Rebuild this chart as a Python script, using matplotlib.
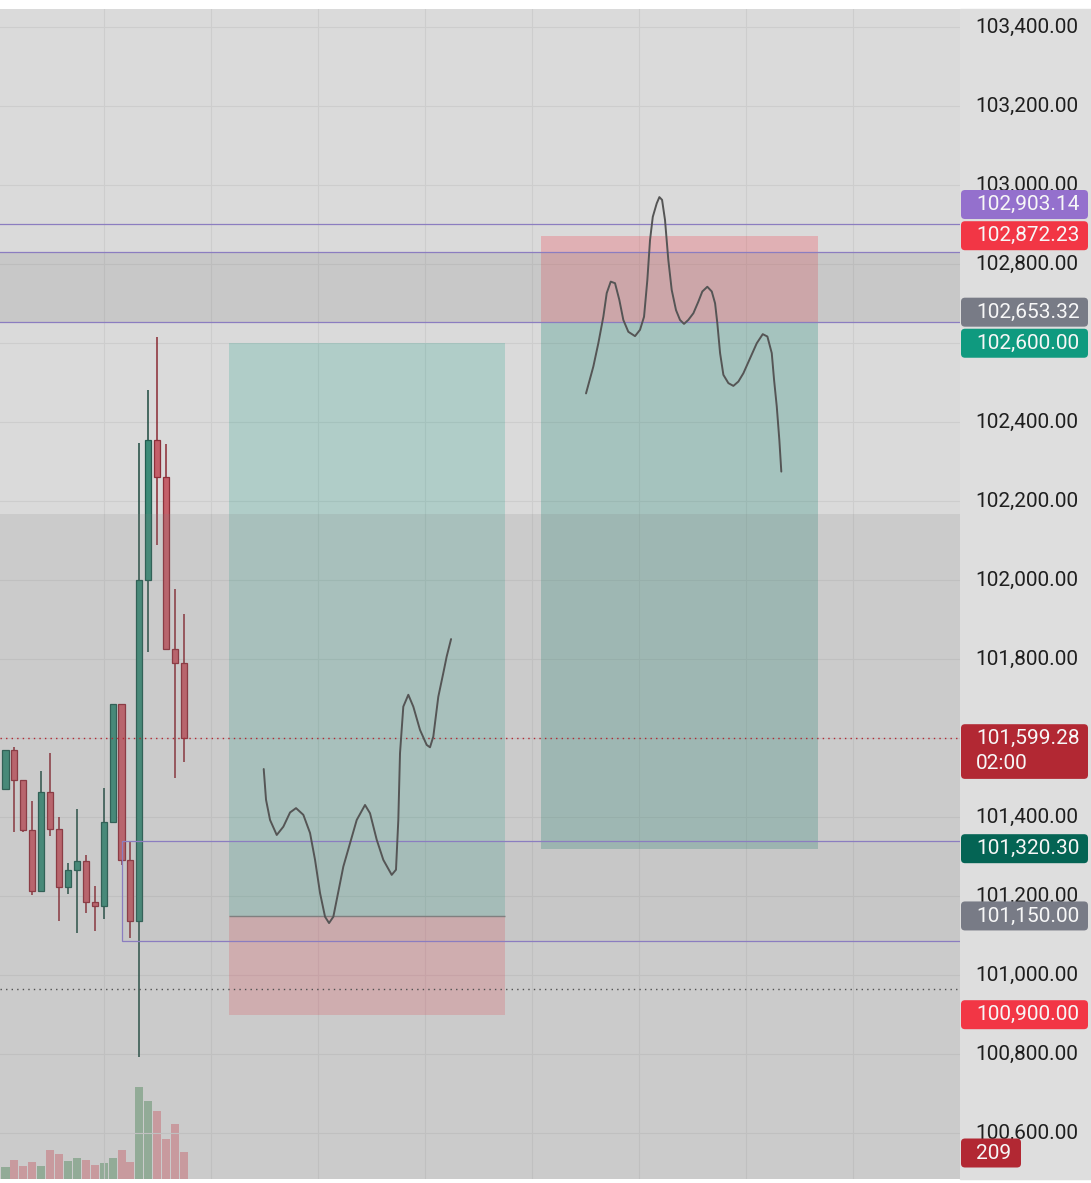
import matplotlib.pyplot as plt
import matplotlib.transforms as mtransforms
from matplotlib.patches import Rectangle, FancyBboxPatch
import numpy as np

plt.rcParams['font.family'] = ['Roboto', 'DejaVu Sans']

# 5 分钟 K 线数据（从截图读出的近似值）
opens = [101472, 101570, 101494, 101367, 101213, 101463, 101370, 101223, 101266, 101289, 101185,
         101175, 101387, 101686, 101291, 101137, 102000, 102355, 102261, 101825, 101790]
highs = [101570, 101578, 101494, 101441, 101517, 101563, 101400, 101284, 101420, 101304, 101226,
         101473, 101686, 101686, 101339, 102348, 102482, 102617, 102345, 101978, 101915]
lows = [101472, 101363, 101363, 101203, 101213, 101352, 101136, 101205, 101106, 101157, 101113,
        101142, 101387, 101278, 101094, 100794, 101819, 102088, 101825, 101499, 101541]
closes = [101570, 101494, 101367, 101213, 101463, 101370, 101223, 101266, 101289, 101185, 101175,
          101387, 101686, 101291, 101137, 102000, 102355, 102261, 101825, 101790, 101599.28]
volumes = [93, 147, 101, 132, 101, 224, 194, 139, 163, 147, 108,
           124, 163, 224, 132, 712, 604, 526, 310, 426, 209]

# 多单 / 空单 工具
long_start, long_end = 25, 56
long_entry, long_tp, long_sl = 101150.00, 102600.00, 100900.00
short_start, short_end = 60, 91
short_entry, short_tp, short_sl = 102653.32, 101320.30, 102872.23

# 水平线与区域
level_lines = [102903.14, 102830.0, 102653.32]
zone_upper = (102653.32, 102830.0)
zone_lower_top = 102168
range_box = (13, 101086, 101339)   # start bar, bottom, top
last_price = 101599.28
dotted_level = 100965

# 手绘路径（bar 序号, 价格）
sketch_long_x = [28.93, 29.19, 29.64, 30.39, 31.13, 31.88, 32.55, 33.37, 34.12, 34.68, 35.24, 35.80,
                 36.25, 36.73, 37.18, 37.85, 38.60, 39.35, 40.28, 40.84, 41.59, 42.33, 43.27, 43.75,
                 44.01, 44.20, 44.57, 45.13, 45.69, 46.44, 47.19, 47.56, 47.93, 48.49, 49.05, 49.43, 49.92]
sketch_long_y = [101522, 101444, 101393, 101355, 101376, 101412, 101423, 101406, 101360, 101292, 101208,
                 101148, 101132, 101148, 101199, 101275, 101334, 101393, 101431, 101410, 101343, 101292,
                 101254, 101267, 101393, 101562, 101680, 101710, 101680, 101621, 101583, 101577, 101604,
                 101705, 101765, 101807, 101851]
sketch_short_x = [65.04, 65.86, 66.42, 66.98, 67.36, 67.81, 68.29, 68.77, 69.22, 69.78, 70.53, 71.09,
                  71.54, 71.91, 72.21, 72.52, 72.96, 73.26, 73.56, 73.89, 74.26, 74.64, 75.12, 75.57,
                  76.02, 76.50, 77.07, 77.62, 78.07, 78.63, 79.13, 79.50, 79.75, 80.06, 80.43, 80.99,
                  81.55, 82.11, 82.67, 83.42, 84.17, 84.84, 85.36, 85.85, 86.11, 86.41, 86.70, 86.92]
sketch_short_y = [102473, 102541, 102600, 102667, 102727, 102756, 102752, 102710, 102659, 102629, 102618,
                  102634, 102667, 102760, 102861, 102920, 102954, 102970, 102963, 102912, 102811, 102735,
                  102684, 102659, 102649, 102659, 102676, 102705, 102731, 102743, 102731, 102701, 102651,
                  102575, 102520, 102499, 102492, 102503, 102524, 102562, 102600, 102623, 102617, 102575,
                  102507, 102440, 102355, 102275]

price_ticks = np.arange(100600, 103401, 200)
time_grid = np.arange(11, 107, 12)

# 右侧价格标签: (价格, 文本, 颜色, 竖直偏移 px)
badges = [
    (102903.14, '102,903.14', '#9470cd', 19),
    (102872.23, '102,872.23', '#f23645', 0),
    (102653.32, '102,653.32', '#787b86', 10),
    (102600.00, '102,600.00', '#0f9a7f', 0),
    (101320.30, '101,320.30', '#046454', 0),
    (101150.00, '101,150.00', '#787b86', 0),
    (100900.00, '100,900.00', '#f23645', 0),
]

W, H = 1091, 1183
fig = plt.figure(figsize=(W / 100, H / 100), dpi=100)
fig.patch.set_facecolor('white')
fig.add_artist(Rectangle((960 / W, 4 / H), 131 / W, 1170.3 / H, transform=fig.transFigure,
                         color='#dedede', zorder=-1))

pos = [0, 4 / H, 960 / W, 1170.3 / H]
ax_v = fig.add_axes(pos)
ax = fig.add_axes(pos, sharex=ax_v)
ax_v.set_facecolor('#dadada')
ax.patch.set_visible(False)
for a in (ax, ax_v):
    for s in a.spines.values():
        s.set_visible(False)

x = np.arange(len(opens))
up = np.array(closes) >= np.array(opens)

# 成交量
ax_v.bar(x, volumes, width=0.9, color=np.where(up, '#96b49c', '#d7a0a5'), zorder=2)
ax_v.set_ylim(0, 9059)
ax_v.tick_params(left=False, labelleft=False, bottom=False, labelbottom=False)

ax.set_xlim(-0.616, 106.94)
ax.set_ylim(100484, 103447)

# 网格
ax.set_xticks(time_grid)
ax.set_yticks(price_ticks)
ax.grid(True, color='#cdcdcd', lw=0.8, zorder=0)
ax.tick_params(axis='x', length=0, labelbottom=False)
ax.yaxis.tick_right()
ax.tick_params(axis='y', length=0, pad=11.2, labelsize=15, labelcolor='#1f1f1f')
ax.yaxis.set_major_formatter(plt.FuncFormatter(lambda v, _: f'{v:,.2f}'))
for lbl in ax.yaxis.get_majorticklabels():
    lbl.set_verticalalignment('center')

# K 线
body_lo = np.minimum(opens, closes)
body_h = np.abs(np.array(closes) - np.array(opens))
ax.vlines(x, lows, highs, colors=np.where(up, '#1d4a40', '#8a2a33'), lw=1.1, zorder=3)
ax.bar(x, body_h, bottom=body_lo, width=0.68, color=np.where(up, '#3e8b78', '#c4606a'),
       edgecolor=np.where(up, '#235c50', '#8e2f3a'), lw=0.9, zorder=4)

# 多单工具
ax.add_patch(Rectangle((long_start, long_entry), long_end - long_start, long_tp - long_entry,
                       color='#089981', alpha=0.2, lw=0, zorder=2))
ax.add_patch(Rectangle((long_start, long_sl), long_end - long_start, long_entry - long_sl,
                       color='#f23645', alpha=0.22, lw=0, zorder=2))
ax.hlines(long_entry, long_start, long_end, color='#808080', lw=1, zorder=2.5)

# 空单工具
ax.add_patch(Rectangle((short_start, short_tp), short_end - short_start, short_entry - short_tp,
                       color='#0a7f6c', alpha=0.25, lw=0, zorder=2))
ax.add_patch(Rectangle((short_start, short_entry), short_end - short_start, short_sl - short_entry,
                       color='#f23645', alpha=0.25, lw=0, zorder=2))

# 灰色区域
ax.axhspan(100000, zone_lower_top, color='#808080', alpha=0.165, lw=0, zorder=5)
ax.axhspan(*zone_upper, color='#808080', alpha=0.2, lw=0, zorder=5)
ax.add_patch(Rectangle((range_box[0], range_box[1]), 120, range_box[2] - range_box[1],
                       facecolor=(0.5, 0.5, 0.5, 0.05), edgecolor='#8b7dc0', lw=0.9, zorder=5.5))
for lv in level_lines:
    ax.axhline(lv, color='#8b7dc0', lw=0.9, zorder=5.5)

ax.axhline(last_price, color='#b22833', lw=1, ls=(0, (1, 3)), zorder=5.5)
ax.axhline(dotted_level, color='#505050', lw=1, ls=(0, (1, 3)), zorder=5.5)

# 手绘线
for sx, sy in ((sketch_long_x, sketch_long_y), (sketch_short_x, sketch_short_y)):
    ax.plot(sx, sy, color='#555555', lw=1.4, solid_capstyle='round', solid_joinstyle='round', zorder=6)


# 右侧标签
def badge(yc, text, color, width=127, height=29, top=None):
    top = yc + height / 2 if top is None else top
    fig.add_artist(FancyBboxPatch((961, top - height), width, height,
                                  boxstyle='round,pad=0,rounding_size=4',
                                  transform=mtransforms.IdentityTransform(),
                                  fc=color, ec='none', zorder=2))
    fig.text(976 / W, yc / H, text, color='#f7f7f7', fontsize=15, ha='left',
             va='center', zorder=3)


for price, text, color, dy in badges:
    yc = ax.transData.transform((0, price))[1] + dy
    badge(yc, text, color)

yp = ax.transData.transform((0, last_price))[1]
badge(yp, '101,599.28', '#b22833', height=54.7, top=yp + 14.3)
fig.text(976 / W, (yp - 25) / H, '02:00', color='#f7f7f7', fontsize=15, ha='left',
         va='center', zorder=3)

yv = ax_v.transData.transform((0, volumes[-1]))[1] - 1
badge(yv, '209', '#b22833', width=60)

fig.savefig('out.png', dpi=100)
